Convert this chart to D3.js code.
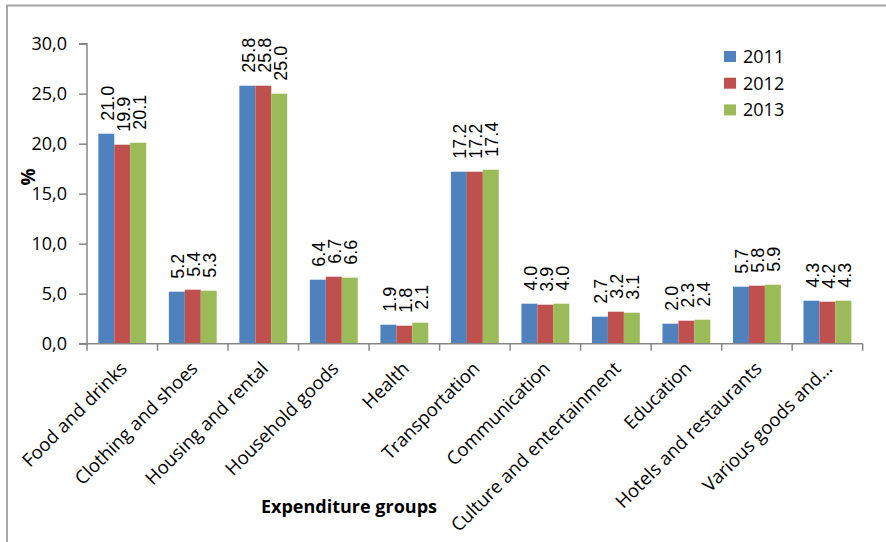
<!DOCTYPE html>
<html>
<head>
<meta charset="utf-8">
<script src="https://cdn.jsdelivr.net/npm/d3@7"></script>
<style>
  html, body { margin: 0; padding: 0; background: #fff; }
  svg { display: block; }
  text { font-family: "Open Sans", Lato, sans-serif; fill: #000; }
</style>
</head>
<body>
<svg id="chart" width="886" height="542"></svg>
<script>
// Expenditure structure by group, share in %
const categories = [
  "Food and drinks", "Clothing and shoes", "Housing and rental", "Household goods",
  "Health", "Transportation", "Communication", "Culture and entertainment",
  "Education", "Hotels and restaurants", "Various goods and…"
];
const years = ["2011", "2012", "2013"];
const values2011 = [21.0, 5.2, 25.8, 6.4, 1.9, 17.2, 4.0, 2.7, 2.0, 5.7, 4.3];
const values2012 = [19.9, 5.4, 25.8, 6.7, 1.8, 17.2, 3.9, 3.2, 2.3, 5.8, 4.2];
const values2013 = [20.1, 5.3, 25.0, 6.6, 2.1, 17.4, 4.0, 3.1, 2.4, 5.9, 4.3];
const yTicks = [0, 5, 10, 15, 20, 25, 30];
const colors = ["#4F81BD", "#C0504D", "#9BBB59"];

const seriesValues = [values2011, values2012, values2013];

const svg = d3.select("#chart");

// outer frame (left and top edges)
svg.append("path")
  .attr("d", "M7,542 V5.5 H886")
  .attr("fill", "none")
  .attr("stroke", "#a6a6a6")
  .attr("stroke-width", 2);

const plot = { left: 87, right: 862.7, top: 43.7, bottom: 343.7 };

const x0 = d3.scaleBand()
  .domain(categories)
  .range([plot.left, plot.right])
  .padding(0);

const x1 = d3.scaleBand()
  .domain(years)
  .range([0, x0.bandwidth()])
  .paddingInner(0)
  .paddingOuter(0.71);

const y = d3.scaleLinear()
  .domain([0, 30])
  .range([plot.bottom, plot.top]);

// bars
const groups = svg.append("g").selectAll("g")
  .data(categories)
  .join("g")
  .attr("transform", d => `translate(${x0(d)},0)`);

groups.selectAll("rect")
  .data((c, i) => years.map((yr, s) => ({ yr, s, v: seriesValues[s][i] })))
  .join("rect")
  .attr("x", d => x1(d.yr))
  .attr("width", x1.bandwidth())
  .attr("y", d => y(d.v))
  .attr("height", d => y(0) - y(d.v))
  .attr("fill", d => colors[d.s]);

// value labels, rotated above each bar
groups.selectAll("text.val")
  .data((c, i) => years.map((yr, s) => ({ yr, s, v: seriesValues[s][i] })))
  .join("text")
  .attr("class", "val")
  .attr("transform", d => `translate(${x1(d.yr) + x1.bandwidth() / 2 + 1},${y(d.v) - 13}) rotate(-90)`)
  .attr("dy", "0.36em")
  .attr("text-anchor", "start")
  .style("font-family", "'Liberation Sans', Arial, sans-serif")
  .style("font-size", "18px")
  .text(d => d.v.toFixed(1));

// y axis
const yAxis = d3.axisLeft(y)
  .tickValues(yTicks)
  .tickSize(8)
  .tickPadding(12)
  .tickFormat(d => d3.format(".1f")(d).replace(".", ","));

const gy = svg.append("g")
  .attr("transform", `translate(${plot.left},0)`)
  .call(yAxis);
gy.selectAll("path, line").attr("stroke", "#868686").attr("stroke-width", 1.5);
gy.select("path").attr("d", `M-8,${plot.top}H0V${plot.bottom}H-8`);
gy.selectAll("text").style("font-size", "18px").style("font-family", "'Open Sans', sans-serif");

// x axis with ticks at category boundaries
const boundaries = categories.map(c => x0(c)).concat([plot.right]);
const gx = svg.append("g");
gx.append("line")
  .attr("x1", plot.left).attr("x2", plot.right)
  .attr("y1", plot.bottom).attr("y2", plot.bottom)
  .attr("stroke", "#868686").attr("stroke-width", 1.5);
gx.selectAll("line.tick")
  .data(boundaries)
  .join("line")
  .attr("class", "tick")
  .attr("x1", d => d).attr("x2", d => d)
  .attr("y1", plot.bottom).attr("y2", plot.bottom + 7)
  .attr("stroke", "#868686").attr("stroke-width", 1.5);

gx.selectAll("text.cat")
  .data(categories)
  .join("text")
  .attr("class", "cat")
  .attr("transform", d => `translate(${x0(d) + x0.bandwidth() / 2 + 6},${plot.bottom + 26}) rotate(-45)`)
  .attr("text-anchor", "end")
  .style("font-size", "18.5px")
  .text(d => d);

// axis titles
svg.append("text")
  .attr("x", 349)
  .attr("y", 513)
  .attr("text-anchor", "middle")
  .style("font-size", "18px")
  .style("font-weight", "bold")
  .text("Expenditure groups");

svg.append("text")
  .attr("transform", "translate(35,177) rotate(-90)")
  .attr("text-anchor", "middle")
  .style("font-size", "19px")
  .style("font-weight", "bold")
  .text("%");

// legend
const legend = svg.append("g").attr("transform", "translate(724,51)");
const items = legend.selectAll("g")
  .data(years)
  .join("g")
  .attr("transform", (d, i) => `translate(0,${i * 26.7})`);
items.append("rect")
  .attr("width", 12).attr("height", 11)
  .attr("fill", (d, i) => colors[i]);
items.append("text")
  .attr("x", 19)
  .attr("y", 5.5)
  .attr("dy", "0.36em")
  .style("font-size", "18px")
  .text(d => d);
</script>
</body>
</html>
